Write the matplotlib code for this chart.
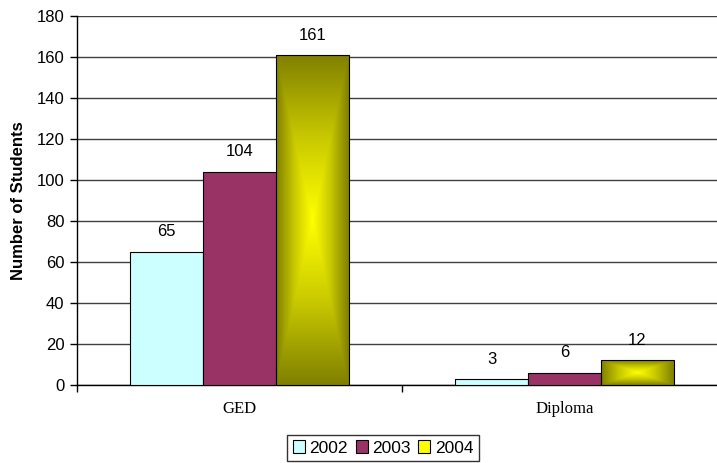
import numpy as np
import matplotlib
matplotlib.use("Agg")
import matplotlib.pyplot as plt
from matplotlib.colors import LinearSegmentedColormap
from matplotlib.patches import Patch

plt.rcParams['font.family'] = ['Liberation Sans', 'DejaVu Sans']

# --- Data ---
categories = ["GED", "Diploma"]
years = ["2002", "2003", "2004"]
ged_counts = [65, 104, 161]
diploma_counts = [3, 6, 12]

colors = ["#CCFFFF", "#993366", "#FFFF00"]
bar_width = 0.2237

fig = plt.figure(figsize=(7.17, 4.63), dpi=100)
# axes spill past the right edge of the figure on purpose
ax = fig.add_axes([77 / 717, 78 / 463, 650 / 717, 369 / 463])

ax.set_xlim(-0.5, 1.5)
ax.set_ylim(0, 180)
ax.set_yticks(np.arange(0, 181, 20))
ax.yaxis.grid(True, color="#404040", linewidth=1.0)
ax.set_axisbelow(True)

for side in ("top", "right"):
    ax.spines[side].set_visible(False)
ax.spines["left"].set_linewidth(1.0)
ax.spines["bottom"].set_linewidth(1.0)

# olive -> yellow "from centre" gradient for the 2004 bars
grad_cmap = LinearSegmentedColormap.from_list("olive_yellow", ["#FFFF00", "#C8C800", "#808000"])
u = np.linspace(-1, 1, 200)
uu, vv = np.meshgrid(u, u)
grad = np.maximum(np.abs(uu), np.abs(vv))

values = np.array([ged_counts, diploma_counts])  # shape (category, year)
x = np.arange(len(categories))
for j, year in enumerate(years):
    xpos = x + (j - 1) * bar_width
    heights = values[:, j]
    bars = ax.bar(xpos, heights, width=bar_width, color=colors[j],
                  edgecolor="black", linewidth=0.8, zorder=3)
    if year == "2004":
        for b in bars:
            b.set_facecolor("none")
            x0, y0 = b.get_x(), b.get_y()
            im = ax.imshow(grad, cmap=grad_cmap, aspect="auto", interpolation="bilinear",
                           extent=(x0, x0 + b.get_width(), y0, y0 + b.get_height()),
                           zorder=2.9)
            im.set_clip_path(b)
    for xp, h in zip(xpos, heights):
        ax.text(xp, h + 6, str(h), ha="center", va="bottom", fontsize=12)

ax.set_xlim(-0.5, 1.5)
ax.set_ylim(0, 180)

# category labels between boundary ticks
ax.set_xticks([-0.5, 0.5, 1.5])
ax.set_xticklabels([])
ax.tick_params(axis="x", length=5, width=1, direction="out")
ax.tick_params(axis="y", length=5, width=1, direction="out", labelsize=12, pad=4)
for xi, name in zip(x, categories):
    ax.text(xi, -8.0, name, ha="center", va="top", fontsize=12,
            family="Liberation Serif", transform=ax.transData)

ax.set_ylabel("Number of Students", fontsize=12, fontweight="bold", labelpad=8)

handles = [Patch(facecolor=c, edgecolor="black", linewidth=0.8) for c in colors]
fig.legend(handles, years, loc="center", bbox_to_anchor=(383 / 717, 15 / 463),
           ncol=3, frameon=True, fancybox=False, edgecolor="black", fontsize=12.5,
           handlelength=0.7, handleheight=0.7, handletextpad=0.25, columnspacing=0.45,
           borderpad=0.3, borderaxespad=0)

fig.savefig("out.png", dpi=100)
